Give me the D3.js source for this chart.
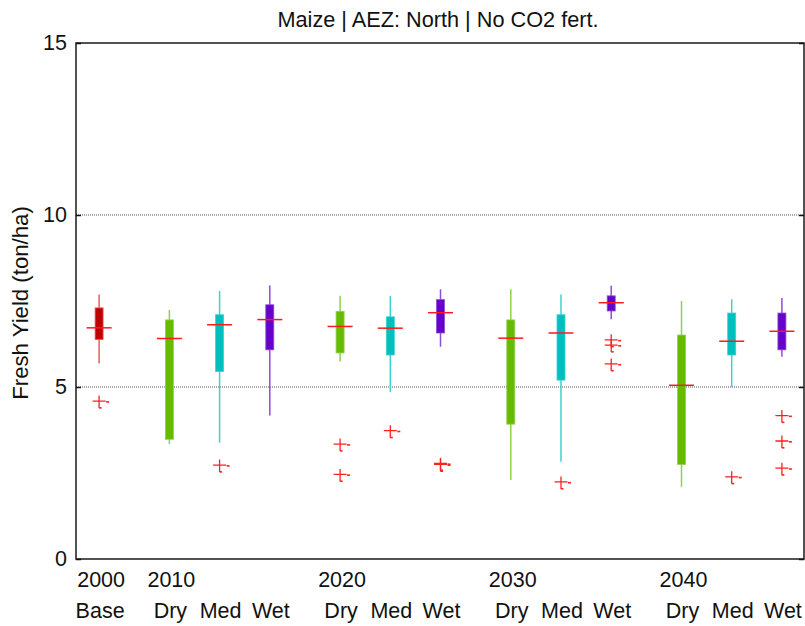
<!DOCTYPE html>
<html>
<head>
<meta charset="utf-8">
<script src="https://cdn.jsdelivr.net/npm/d3@7"></script>
<style>
  html, body { margin: 0; padding: 0; background: #fff; }
  svg { display: block; font-family: "Liberation Sans", Arial, sans-serif; }
</style>
</head>
<body>
<svg id="chart" width="805" height="626"></svg>
<script>
// Fresh maize yield (ton/ha) by period and climate scenario
const periods    = ["2000", "2010", "2020", "2030", "2040"];
const scenarios  = ["Base", "Dry", "Med", "Wet", "Dry", "Med", "Wet", "Dry", "Med", "Wet", "Dry", "Med", "Wet"];
const periodOf   = [0, 1, 1, 1, 2, 2, 2, 3, 3, 3, 4, 4, 4];

// Box statistics per box, left to right
const whiskerLow  = [5.68, 3.34, 3.38, 4.17, 5.74, 4.85, 6.17, 2.30, 2.83, 6.97, 2.10, 5.00, 5.88];
const q1          = [6.38, 3.48, 5.45, 6.08, 5.99, 5.93, 6.57, 3.92, 5.20, 7.21, 2.75, 5.93, 6.08];
const medians     = [6.72, 6.41, 6.81, 6.96, 6.76, 6.71, 7.16, 6.42, 6.57, 7.45, 5.05, 6.33, 6.62];
const q3          = [7.30, 6.95, 7.10, 7.39, 7.20, 7.04, 7.54, 6.95, 7.10, 7.65, 6.51, 7.15, 7.15];
const whiskerHigh = [7.69, 7.24, 7.79, 7.95, 7.65, 7.65, 7.84, 7.84, 7.69, 7.94, 7.50, 7.55, 7.59];
const outliers    = [[4.59], [], [2.73], [], [3.34, 2.46], [3.73], [2.78, 2.75], [], [2.24], [6.37, 6.22, 5.67], [], [2.39], [4.17, 3.43, 2.64]];

const yTicks = [0, 5, 10, 15];
const gridValues = [5, 10];

const boxColor = { Base: "#c00000", Dry: "#66bb00", Med: "#00bfbf", Wet: "#6600cc" };
const whiskerColor = { Base: "#e06060", Dry: "#8ed14a", Med: "#3fd0d0", Wet: "#8a4fd6" };

const svg = d3.select("#chart");
const plotLeft = 76, plotRight = 804, plotTop = 43, plotBottom = 559;

// slot position: periods are separated by a wider gap than scenarios inside a period
const slot = scenarios.map((s, i) => {
  const p = periodOf[i];
  if (p === 0) return 0;
  const first = periodOf.indexOf(p);
  return 1.4 + (p - 1) * 3.4 + (i - first);
});

const x = d3.scaleLinear().domain([-0.46, 14.04]).range([plotLeft, plotRight]);
const y = d3.scaleLinear().domain([0, 15]).range([plotBottom, plotTop]);

// horizontal grid lines
svg.append("g").selectAll("line").data(gridValues).join("line")
  .attr("x1", plotLeft).attr("x2", plotRight)
  .attr("y1", d => y(d)).attr("y2", d => y(d))
  .attr("stroke", "#555").attr("stroke-width", 1).attr("stroke-dasharray", "1,1");

// boxes
const boxes = svg.append("g").selectAll("g").data(scenarios.map((s, i) => i)).join("g");

boxes.append("line")
  .attr("x1", i => x(slot[i])).attr("x2", i => x(slot[i]))
  .attr("y1", i => y(whiskerLow[i])).attr("y2", i => y(whiskerHigh[i]))
  .attr("stroke", i => whiskerColor[scenarios[i]]).attr("stroke-width", 1.5);

boxes.append("rect")
  .attr("x", i => x(slot[i]) - 4).attr("width", 8)
  .attr("y", i => y(q3[i])).attr("height", i => y(q1[i]) - y(q3[i]))
  .attr("fill", i => boxColor[scenarios[i]])
  .attr("stroke", i => whiskerColor[scenarios[i]]).attr("stroke-width", 0.8);

boxes.append("line")
  .attr("x1", i => x(slot[i]) - 12.5).attr("x2", i => x(slot[i]) + 12.5)
  .attr("y1", i => y(medians[i])).attr("y2", i => y(medians[i]))
  .attr("stroke", "#ff1a1a").attr("stroke-width", 1.5);

// outlier markers
const pts = [];
outliers.forEach((arr, i) => arr.forEach(v => pts.push({ i, v })));
const marks = svg.append("g").selectAll("g").data(pts).join("g")
  .attr("transform", d => `translate(${x(slot[d.i])},${y(d.v)})`);
marks.append("path")
  .attr("d", "M-6.5,0H6.5M0,-5.5V7")
  .attr("stroke", "#ff2020").attr("stroke-width", 1.3).attr("fill", "none");
marks.append("rect")
  .attr("x", 7).attr("y", 0).attr("width", 3).attr("height", 1.6).attr("fill", "#ff2020");
marks.append("rect")
  .attr("x", 0).attr("y", 6).attr("width", 2.5).attr("height", 1.6).attr("fill", "#ff2020");

// frame
svg.append("rect")
  .attr("x", plotLeft).attr("y", plotTop).attr("width", plotRight - plotLeft).attr("height", plotBottom - plotTop)
  .attr("fill", "none").attr("stroke", "#1a1a1a").attr("stroke-width", 1.5);

// y ticks, inward on both sides
const yAxisL = d3.axisLeft(y).tickValues(yTicks).tickSizeInner(-5).tickSizeOuter(0).tickPadding(9);
const gL = svg.append("g").attr("transform", `translate(${plotLeft},0)`).call(yAxisL);
gL.select(".domain").remove();
gL.selectAll(".tick line").attr("stroke", "#111").attr("stroke-width", 1.5);
gL.selectAll(".tick text").attr("font-size", 21.5).attr("fill", "#111")
  .attr("font-family", "Liberation Sans, Arial, sans-serif");

const yAxisR = d3.axisRight(y).tickValues(yTicks).tickSizeInner(-5).tickSizeOuter(0).tickFormat("");
const gR = svg.append("g").attr("transform", `translate(${plotRight},0)`).call(yAxisR);
gR.select(".domain").remove();
gR.selectAll(".tick line").attr("stroke", "#111").attr("stroke-width", 1.5);

// x labels: period year on the first box of each period, scenario below every box
const xl = svg.append("g").attr("font-size", 21.5).attr("fill", "#111").attr("text-anchor", "middle");
periods.forEach((p, k) => {
  const i = periodOf.indexOf(k);
  xl.append("text").attr("x", x(slot[i]) + 2).attr("y", 587).text(p);
});
scenarios.forEach((s, i) => {
  xl.append("text").attr("x", x(slot[i]) + 1).attr("y", 618).text(s);
});

// title and axis label
svg.append("text").attr("x", 438).attr("y", 27).attr("text-anchor", "middle")
  .attr("font-size", 21.7).attr("fill", "#111").text("Maize | AEZ: North | No CO2 fert.");

svg.append("text").attr("transform", "translate(28,303) rotate(-90)").attr("text-anchor", "middle")
  .attr("font-size", 22.2).attr("fill", "#111").text("Fresh Yield (ton/ha)");
</script>
</body>
</html>
